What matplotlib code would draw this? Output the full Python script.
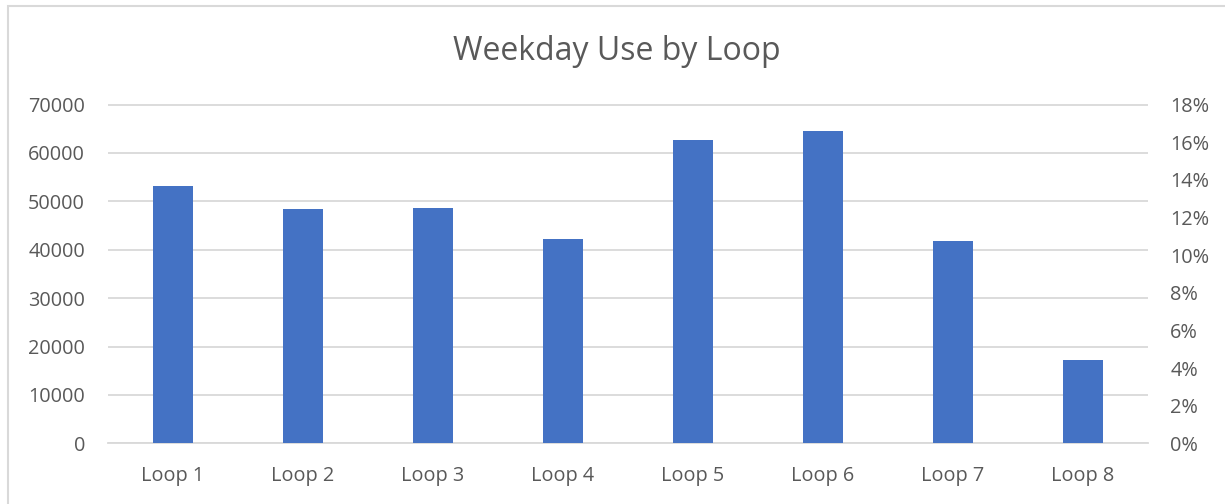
import matplotlib.pyplot as plt
from matplotlib.ticker import FuncFormatter
from matplotlib.patches import Rectangle

plt.rcParams['font.family'] = ['Open Sans', 'DejaVu Sans']

# Data
loops = ['Loop 1', 'Loop 2', 'Loop 3', 'Loop 4', 'Loop 5', 'Loop 6', 'Loop 7', 'Loop 8']
weekday_use = [53100, 48400, 48600, 42150, 62650, 64500, 41800, 17150]
left_ticks = [0, 10000, 20000, 30000, 40000, 50000, 60000, 70000]
right_ticks = [0.0, 0.02, 0.04, 0.06, 0.08, 0.10, 0.12, 0.14, 0.16, 0.18]

bar_color = '#4472C4'
text_color = '#595959'
grid_color = '#D9D9D9'

W, H = 1225, 504
fig = plt.figure(figsize=(W / 100, H / 100), dpi=100)

# plot area in pixel coords
left_px, right_px, top_px, bottom_px = 108, 1148, 104.5, 443.3
ax = fig.add_axes([left_px / W, (H - bottom_px) / H,
                   (right_px - left_px) / W, (bottom_px - top_px) / H])

x = range(len(loops))
ax.bar(x, weekday_use, width=0.31, color=bar_color, zorder=3)
ax.set_xlim(-0.5, len(loops) - 0.5)
ax.set_ylim(0, 70000)
ax.set_yticks(left_ticks)
ax.set_xticks(list(x))
ax.set_xticklabels(loops)

ax.grid(axis='y', color=grid_color, linewidth=1.3, zorder=0)
for s in ['top', 'left', 'right']:
    ax.spines[s].set_visible(False)
ax.spines['bottom'].set_color(grid_color)
ax.spines['bottom'].set_linewidth(1.3)
ax.tick_params(axis='y', length=0, pad=16.5, labelsize=14.3, labelcolor=text_color)
ax.tick_params(axis='x', length=0, pad=16.5, labelsize=14.3, labelcolor=text_color)

# secondary axis (percent)
ax2 = ax.twinx()
ax2.set_ylim(0, 0.18)
ax2.set_yticks(right_ticks)
ax2.yaxis.set_major_formatter(FuncFormatter(lambda v, p: f'{v * 100:.0f}%'))
for s in ['top', 'left', 'right', 'bottom']:
    ax2.spines[s].set_visible(False)
ax2.tick_params(axis='y', length=0, pad=16, labelsize=14.3, labelcolor=text_color)

fig.text(617 / W, 1 - 52 / H, 'Weekday Use by Loop', ha='center', va='center',
         fontsize=23, color=text_color)

# chart border
fig.patches.append(Rectangle((7.5 / W, -0.1), 1.2, 1.1 - 6.5 / H,
                             transform=fig.transFigure, fill=False,
                             edgecolor=grid_color, linewidth=1.5))

fig.savefig('out.png', dpi=100)
